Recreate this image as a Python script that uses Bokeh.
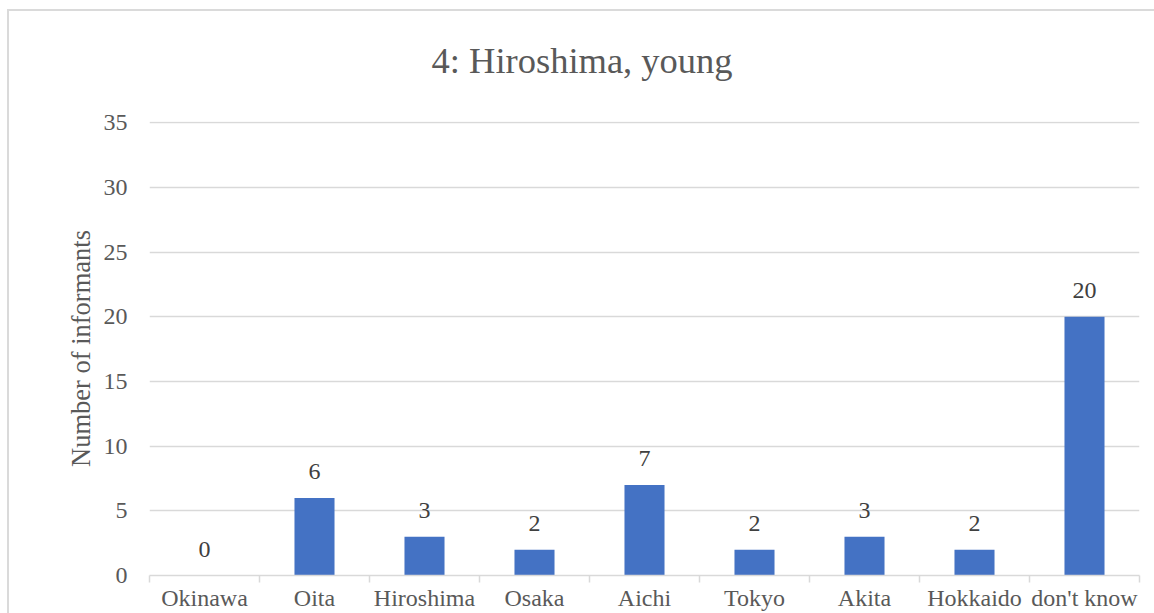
from bokeh.plotting import figure
from bokeh.models import (FactorRange, Range1d, LinearAxis, FixedTicker, Grid,
                          ColumnDataSource)
from bokeh.core.properties import value
from bokeh.embed import file_html
from bokeh.resources import INLINE

# Survey counts per answer
categories = ["Okinawa", "Oita", "Hiroshima", "Osaka", "Aichi",
              "Tokyo", "Akita", "Hokkaido", "don't know"]
informants = [0, 6, 3, 2, 7, 2, 3, 2, 20]
y_ticks = [0, 5, 10, 15, 20, 25, 30, 35]

title_text = "4: Hiroshima, young"
y_label = "Number of informants"

FONT = "Liberation Serif"
TEXT_GREY = "#595959"
LABEL_GREY = "#404040"
LINE_GREY = "#d9d9d9"
BAR_BLUE = "#4472c4"

src = ColumnDataSource(dict(cat=categories, n=informants,
                            label=[str(v) for v in informants]))

p = figure(width=1154, height=613,
           x_range=FactorRange(factors=categories),
           y_range=Range1d(0, y_ticks[-1] + 0.1),
           x_axis_type=None, y_axis_type=None,
           output_backend="svg", toolbar_location=None,
           min_border_left=149, min_border_right=15,
           min_border_top=121, min_border_bottom=38)
p.outline_line_color = None
p.background_fill_color = "white"
p.border_fill_alpha = 0

# light frame around the chart area, drawn behind the transparent border
p.styles = {
    "background-color": "white",
    "background-image": "linear-gradient(#dadada, #dadada), linear-gradient(#dadada, #dadada)",
    "background-size": "2px 100%, 100% 2px",
    "background-position": "7px 9px, 7px 9px",
    "background-repeat": "no-repeat",
}

# value axis
yaxis = LinearAxis(ticker=FixedTicker(ticks=y_ticks), axis_label=y_label)
yaxis.axis_line_color = None
yaxis.major_tick_line_color = None
yaxis.minor_tick_line_color = None
yaxis.major_tick_out = 0
yaxis.major_label_standoff = 22
yaxis.major_label_text_font = FONT
yaxis.major_label_text_font_size = "24px"
yaxis.major_label_text_color = TEXT_GREY
yaxis.axis_label_text_font = FONT
yaxis.axis_label_text_font_size = "26.5px"
yaxis.axis_label_text_font_style = "normal"
yaxis.axis_label_text_color = TEXT_GREY
yaxis.axis_label_standoff = 5
p.add_layout(yaxis, "left")

p.add_layout(Grid(dimension=1, ticker=yaxis.ticker,
                  grid_line_color=LINE_GREY, grid_line_width=1.5))

# category axis: names at the centres, short ticks between categories
centers = [i + 0.5 for i in range(len(categories))]
bounds = list(range(len(categories) + 1))
xaxis = LinearAxis(ticker=FixedTicker(ticks=centers, minor_ticks=bounds),
                   major_label_overrides={c: name for c, name in zip(centers, categories)})
xaxis.axis_line_color = LINE_GREY
xaxis.axis_line_width = 1.5
xaxis.major_tick_line_color = None
xaxis.major_tick_out = 0
xaxis.major_tick_in = 0
xaxis.minor_tick_line_color = LINE_GREY
xaxis.minor_tick_line_width = 1.5
xaxis.minor_tick_out = 7
xaxis.minor_tick_in = 0
xaxis.major_label_standoff = 2
xaxis.major_label_text_font = FONT
xaxis.major_label_text_font_size = "24px"
xaxis.major_label_text_color = TEXT_GREY
p.add_layout(xaxis, "below")

p.vbar(x="cat", top="n", width=0.364, source=src,
       fill_color=BAR_BLUE, line_color=None)

p.text(x="cat", y="n", text="label", source=src,
       text_align="center", text_baseline="alphabetic", y_offset=-26,
       text_font=value(FONT), text_font_size="24px", text_color=LABEL_GREY)

p.title.text = title_text
p.title.align = "left"
p.title.vertical_align = "top"
p.title.offset = 282
p.title.standoff = 78
p.title.text_font = FONT
p.title.text_font_size = "36.5px"
p.title.text_font_style = "normal"
p.title.text_color = TEXT_GREY

open("out.html", "w").write(file_html(p, INLINE))
